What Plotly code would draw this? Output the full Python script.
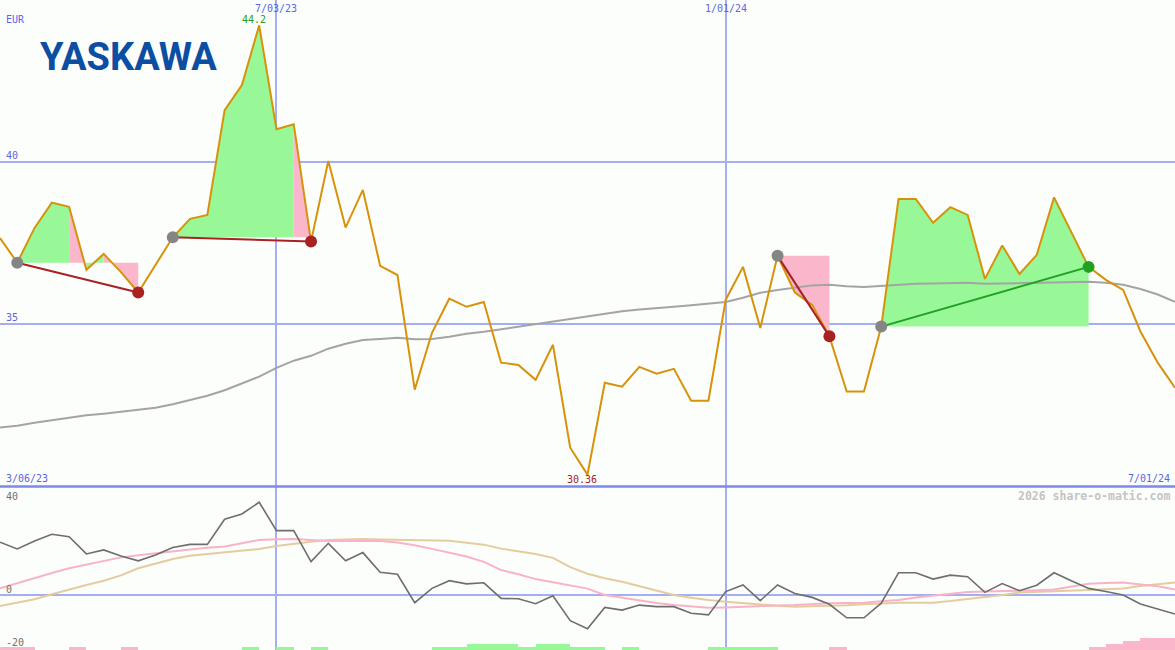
import plotly.graph_objects as go
import pandas as pd

# ---------------- data ----------------
start_date = "2023-03-13"
n_weeks = 69
dates = pd.date_range(start_date, periods=n_weeks, freq="7D")

price = [37.65, 36.89, 37.96, 38.74, 38.61, 36.67, 37.16, 36.60, 35.97, 36.82,
         37.67, 38.24, 38.36, 41.59, 42.36, 44.20, 41.00, 41.15, 37.54, 40.02,
         37.97, 39.13, 36.79, 36.51, 32.98, 34.73, 35.78, 35.53, 35.68, 33.81,
         33.74, 33.28, 34.36, 31.19, 30.36, 33.19, 33.07, 33.68, 33.47, 33.62,
         32.64, 32.64, 35.75, 36.76, 34.88, 37.10, 35.97, 35.59, 34.62, 32.92,
         32.92, 34.92, 38.85, 38.85, 38.12, 38.60, 38.36, 36.39, 37.42, 36.54,
         37.13, 38.90, 37.84, 36.76, 36.36, 36.05, 34.77, 33.81, 33.04]

moving_avg = [31.81, 31.87, 31.96, 32.04, 32.11, 32.19, 32.24, 32.30, 32.34, 32.42,
              32.53, 32.67, 32.79, 32.96, 33.16, 33.38, 33.65, 33.87, 34.02, 34.24,
              34.39, 34.51, 34.54, 34.58, 34.53, 34.54, 34.61, 34.70, 34.76, 34.84,
              34.91, 35.01, 35.08, 35.16, 35.24, 35.31, 35.39, 35.45, 35.48, 35.53,
              35.58, 35.62, 35.68, 35.81, 35.96, 36.05, 36.13, 36.19, 36.21, 36.16,
              36.14, 36.18, 36.21, 36.24, 36.25, 36.27, 36.27, 36.24, 36.25, 36.27,
              36.28, 36.30, 36.30, 36.30, 36.27, 36.21, 36.08, 35.91, 35.68]

oscillator = [19.9, 17.4, 20.4, 22.9, 22.0, 15.5, 17.0, 14.7, 12.9, 15.1,
              17.9, 19.1, 19.1, 28.6, 30.6, 35.0, 24.3, 24.3, 12.6, 19.5,
              12.9, 16.0, 8.6, 7.8, -2.9, 2.5, 5.4, 4.2, 4.6, -1.3,
              -1.4, -3.3, -0.3, -9.7, -12.7, -4.7, -5.7, -3.8, -4.4, -4.4,
              -6.9, -7.5, 1.3, 3.8, -2.1, 3.8, 0.6, -0.9, -3.5, -8.6,
              -8.6, -3.1, 8.4, 8.4, 6.0, 7.5, 6.9, 1.0, 4.3, 1.6,
              3.7, 8.4, 5.4, 2.5, 1.3, 0.0, -3.4, -5.4, -7.2]

osc_fast = [2.5, 4.5, 6.5, 8.3, 10.1, 11.4, 12.8, 14.2, 15.0, 15.8,
            16.6, 17.2, 17.8, 18.3, 19.5, 20.8, 21.0, 21.1, 20.8, 20.4,
            20.4, 20.4, 20.4, 19.8, 18.8, 17.4, 16.0, 14.5, 12.5, 9.4,
            7.8, 6.0, 4.8, 3.6, 2.4, 0.0, -1.0, -2.1, -3.0, -3.8,
            -4.3, -4.8, -4.7, -4.4, -4.2, -4.0, -3.8, -3.4, -3.1, -3.0,
            -2.9, -2.4, -1.9, -0.9, -0.3, 0.4, 1.1, 1.3, 1.4, 1.6,
            1.8, 2.1, 3.2, 4.2, 4.5, 4.7, 4.0, 3.3, 2.1]

osc_slow = [-4.2, -3.0, -1.6, 0.3, 2.1, 3.8, 5.4, 7.4, 10.1, 11.8,
            13.6, 14.8, 15.4, 16.0, 16.7, 17.4, 18.5, 19.4, 20.1, 20.8,
            21.0, 21.1, 20.9, 20.8, 20.7, 20.6, 20.5, 19.7, 19.0, 17.5,
            16.5, 15.5, 14.0, 10.5, 8.0, 6.3, 5.0, 3.4, 1.8, 0.0,
            -1.0, -1.9, -2.5, -3.1, -3.6, -4.1, -4.4, -4.3, -4.2, -3.9,
            -3.5, -3.2, -2.9, -2.9, -2.9, -2.3, -1.6, -0.8, 0.0, 0.9,
            1.1, 1.3, 1.6, 1.9, 2.2, 2.5, 3.4, 4.1, 4.7]

signal_bars = [-1, -1, 0, 0, -1, 0, 0, -1, 0, 0,
               0, 0, 0, 0, 1, 0, 1, 0, 1, 0,
               0, 0, 0, 0, 0, 1, 1, 2, 2, 2,
               1, 2, 2, 1, 1, 0, 1, 0, 0, 0,
               0, 1, 1, 1, 1, 0, 0, 0, -1, 0,
               0, 0, 0, 0, 0, 0, 0, 0, 0, 0,
               0, 0, 0, -1, -2, -3, -4, -4, 0]

trade_entry = [1, 10, 45, 51]
trade_exit = [8, 18, 48, 63]

fill_start = [1, 4, 5, 6, 10, 17, 45, 51]
fill_end = [4, 5, 6, 8, 17, 18, 48, 63]
fill_trade = [0, 0, 0, 0, 1, 1, 2, 3]
fill_gain = [True, False, True, False, True, False, False, True]

price_ticks = [35, 40]
osc_ticks = [-20, 0, 40]
date_ticks = ["2023-07-03", "2024-01-01"]
date_tick_text = ["7/03/23", "1/01/24"]
first_label = "3/06/23"
last_label = "7/01/24"
currency = "EUR"
company = "YASKAWA"
credit = "2026 share-o-matic.com"

# ---------------- styles ----------------
W, H = 1175, 650
split = 163 / H
BG = "#fcfefc"
GRID = "#a6aef2"
BLUE_TXT = "#5866e6"
ORANGE = "#d8920a"
GREEN_FILL = "#98f898"
PINK_FILL = "#fab6ca"
LOSS = "#a82222"
GAIN = "#22a022"

fig = go.Figure()

# trade fills
for s, e, t, g in zip(fill_start, fill_end, fill_trade, fill_gain):
    base = price[trade_entry[t]]
    xs = [dates[s]] + list(dates[s:e + 1]) + [dates[e], dates[s]]
    ys = [base] + price[s:e + 1] + [base, base]
    fig.add_trace(go.Scatter(x=xs, y=ys, mode="lines", fill="toself",
                             fillcolor=GREEN_FILL if g else PINK_FILL,
                             line=dict(width=0), hoverinfo="skip",
                             xaxis="x", yaxis="y", showlegend=False))

# moving average
fig.add_trace(go.Scatter(x=dates, y=moving_avg, mode="lines",
                         line=dict(color="#a4a4a4", width=2),
                         xaxis="x", yaxis="y", showlegend=False))
# price
fig.add_trace(go.Scatter(x=dates, y=price, mode="lines",
                         line=dict(color=ORANGE, width=2),
                         xaxis="x", yaxis="y", showlegend=False))

# trades lines and markers
for en, ex in zip(trade_entry, trade_exit):
    win = price[ex] > price[en]
    col = GAIN if win else LOSS
    fig.add_trace(go.Scatter(x=[dates[en], dates[ex]], y=[price[en], price[ex]],
                             mode="lines", line=dict(color=col, width=2),
                             xaxis="x", yaxis="y", showlegend=False))
    fig.add_trace(go.Scatter(x=[dates[en]], y=[price[en]], mode="markers",
                             marker=dict(color="#858585", size=12),
                             xaxis="x", yaxis="y", showlegend=False))
    fig.add_trace(go.Scatter(x=[dates[ex]], y=[price[ex]], mode="markers",
                             marker=dict(color=col, size=12),
                             xaxis="x", yaxis="y", showlegend=False))

# lower panel bars
bar_cols = [GREEN_FILL if v > 0 else PINK_FILL for v in signal_bars]
fig.add_trace(go.Bar(x=dates, y=[abs(v) for v in signal_bars],
                     marker=dict(color=bar_cols, line=dict(width=0)),
                     width=7 * 86400000, offset=0,
                     xaxis="x2", yaxis="y3", showlegend=False))

fig.add_trace(go.Scatter(x=dates, y=osc_slow, mode="lines",
                         line=dict(color="#e4cc9e", width=2),
                         xaxis="x2", yaxis="y2", showlegend=False))
fig.add_trace(go.Scatter(x=dates, y=osc_fast, mode="lines",
                         line=dict(color="#f9b2c8", width=2),
                         xaxis="x2", yaxis="y2", showlegend=False))
fig.add_trace(go.Scatter(x=dates, y=oscillator, mode="lines",
                         line=dict(color="#6e6e6e", width=1.6),
                         xaxis="x2", yaxis="y2", showlegend=False))

xrange = [dates[0], dates[-1]]
xcommon = dict(range=xrange, tickvals=date_ticks, showticklabels=False,
               showgrid=True, gridcolor=GRID, gridwidth=2, zeroline=False,
               showline=False, ticks="", type="date")

fig.update_layout(
    width=W, height=H,
    margin=dict(l=0, r=0, t=0, b=0),
    paper_bgcolor=BG, plot_bgcolor=BG,
    showlegend=False, hovermode=False, bargap=0,
    xaxis=dict(domain=[0, 1], anchor="y", **xcommon),
    xaxis2=dict(domain=[0, 1], anchor="y2", matches="x", **xcommon),
    yaxis=dict(domain=[split, 1], range=[29.98, 44.98], tickvals=price_ticks,
               showticklabels=False, showgrid=True, gridcolor=GRID, gridwidth=2,
               zeroline=False, anchor="x"),
    yaxis2=dict(domain=[0, split], range=[-20.75, 40.75], tickvals=[0],
                showticklabels=False, showgrid=True, gridcolor=GRID, gridwidth=2,
                zeroline=False, anchor="x2"),
    yaxis3=dict(domain=[0, split], range=[0, 163 / 3], overlaying="y2",
                showticklabels=False, showgrid=False, zeroline=False, anchor="x2"),
)

# separator between panels
fig.add_shape(type="line", xref="paper", yref="paper", x0=0, x1=1,
              y0=split + 0.5 / H, y1=split + 0.5 / H,
              line=dict(color="#7b88ee", width=2.5), layer="above")

MONO = "DejaVu Sans Mono"


def py(pix):
    return 1 - pix / H


ann = []
ann.append(dict(x=4 / W, y=py(19), xref="paper", yref="paper", text=currency,
                xanchor="left", yanchor="middle",
                font=dict(family=MONO, size=10, color=BLUE_TXT)))
for v in price_ticks:
    ann.append(dict(x=4 / W, y=v, xref="paper", yref="y", text=str(v),
                    xanchor="left", yanchor="bottom", yshift=-1,
                    font=dict(family=MONO, size=10, color=BLUE_TXT)))
for d, t in zip(date_ticks, date_tick_text):
    ann.append(dict(x=d, y=py(8), xref="x", yref="paper", text=t,
                    xanchor="center", yanchor="middle",
                    font=dict(family=MONO, size=10, color=BLUE_TXT)))
ann.append(dict(x=4 / W, y=py(478), xref="paper", yref="paper", text=first_label,
                xanchor="left", yanchor="middle",
                font=dict(family=MONO, size=10, color=BLUE_TXT)))
ann.append(dict(x=1172 / W, y=py(478), xref="paper", yref="paper", text=last_label,
                xanchor="right", yanchor="middle",
                font=dict(family=MONO, size=10, color=BLUE_TXT)))
# max / min labels
imax = max(range(n_weeks), key=lambda i: price[i])
imin = min(range(n_weeks), key=lambda i: price[i])
ann.append(dict(x=dates[imax], y=price[imax], xref="x", yref="y",
                text=f"{price[imax]:.1f}", xanchor="center", yanchor="bottom",
                xshift=-5, yshift=-2,
                font=dict(family=MONO, size=10, color="#22a022")))
ann.append(dict(x=dates[imin], y=price[imin], xref="x", yref="y",
                text=f"{price[imin]:.2f}", xanchor="center", yanchor="top",
                xshift=-6, yshift=3,
                font=dict(family=MONO, size=10, color="#a82222")))
# oscillator labels
osc_label_pix = {40: 496, 0: 589, -20: 642}
for v in osc_ticks:
    ann.append(dict(x=4 / W, y=py(osc_label_pix[v]), xref="paper", yref="paper",
                    text=str(v), xanchor="left", yanchor="middle",
                    font=dict(family=MONO, size=10, color="#707070")))
ann.append(dict(x=1172 / W, y=py(496), xref="paper", yref="paper",
                text=f"<b>{credit}</b>", xanchor="right", yanchor="middle",
                font=dict(family=MONO, size=11.5, color="#c4c4c4")))
# company logo text
ann.append(dict(x=38 / W, y=py(57), xref="paper", yref="paper",
                text=f"<b>{company}</b>", xanchor="left", yanchor="middle",
                font=dict(family="Roboto", size=38, color="#0b4ea2")))

for a in ann:
    a["showarrow"] = False
fig.update_layout(annotations=ann)

fig.write_html("out.html", config={"displayModeBar": False, "staticPlot": True},
               post_script="document.body.style.margin='0';document.body.style.overflow='hidden';")
